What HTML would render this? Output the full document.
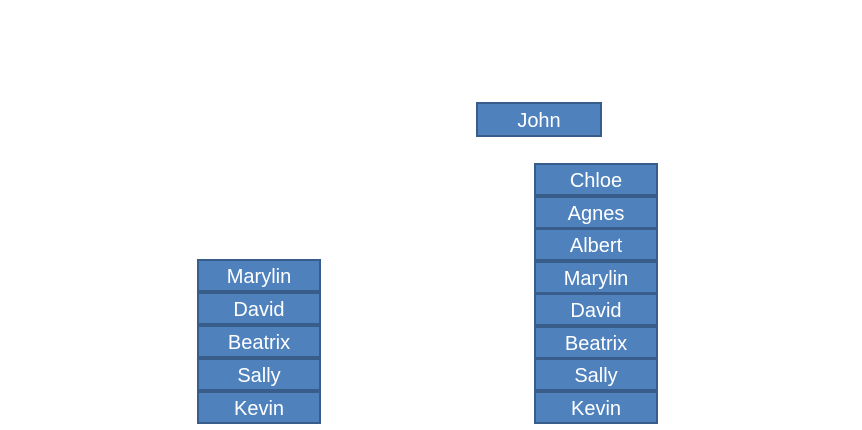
<!DOCTYPE html>
<html><head><style>
body{margin:0;width:862px;height:430px;background:#fff;position:relative;overflow:hidden;font-family:"Liberation Sans",sans-serif}
.b{position:absolute;box-sizing:border-box;background:#4f81bd;border:2px solid #385d8a;color:#fff;font-size:20px;display:flex;align-items:center;justify-content:center;padding-top:4px}
</style></head><body>
<div class="b" style="left:476px;top:102px;width:126px;height:35px">John</div>
<div class="b" style="left:197px;top:259px;width:124px;height:33px">Marylin</div>
<div class="b" style="left:197px;top:292px;width:124px;height:33px">David</div>
<div class="b" style="left:197px;top:325px;width:124px;height:33px">Beatrix</div>
<div class="b" style="left:197px;top:358px;width:124px;height:33px">Sally</div>
<div class="b" style="left:197px;top:391px;width:124px;height:33px">Kevin</div>
<div class="b" style="left:534px;top:163px;width:124px;height:33px">Chloe</div>
<div class="b" style="left:534px;top:196px;width:124px;height:33px">Agnes</div>
<div class="b" style="left:534px;top:228px;width:124px;height:33px">Albert</div>
<div class="b" style="left:534px;top:261px;width:124px;height:33px">Marylin</div>
<div class="b" style="left:534px;top:293px;width:124px;height:33px">David</div>
<div class="b" style="left:534px;top:326px;width:124px;height:33px">Beatrix</div>
<div class="b" style="left:534px;top:358px;width:124px;height:33px">Sally</div>
<div class="b" style="left:534px;top:391px;width:124px;height:33px">Kevin</div>
</body></html>
